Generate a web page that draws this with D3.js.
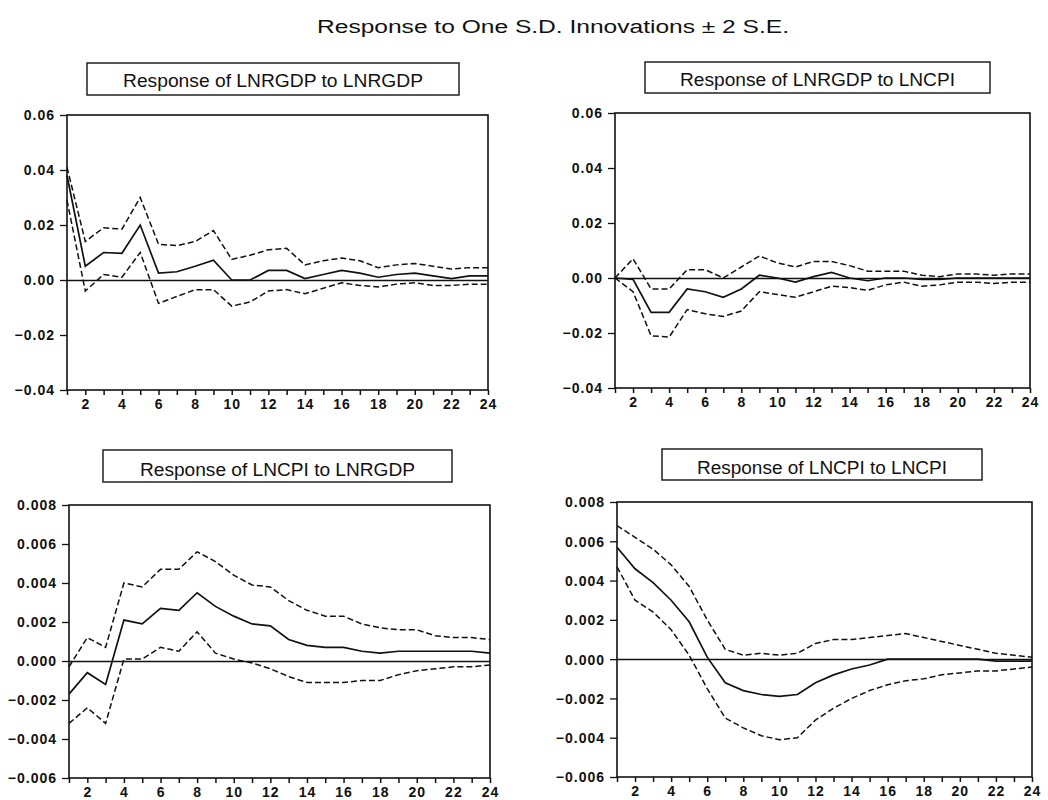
<!DOCTYPE html>
<html lang="en">
<head>
    <meta charset="UTF-8">
    <title>Impulse responses</title>
    <script src="https://cdn.jsdelivr.net/npm/d3@7"></script>
    <style>
        body { margin: 0; background: #fff; }
        text { font-family: "Liberation Sans", Arial, sans-serif; fill: #111; }
        .tick-label { font-size: 14px; font-weight: bold; letter-spacing: 1px; }
    </style>
</head>
<body>
    <svg id="mainsvg" width="1048" height="800"></svg>
    <script>
        // periods on the x axis
        const periods = [1,2,3,4,5,6,7,8,9,10,11,12,13,14,15,16,17,18,19,20,21,22,23,24];
        const mainTitle = "Response to One S.D. Innovations \u00b1 2 S.E.";

        // Response of LNRGDP to LNRGDP
        const gdpGdp = [0.038,0.005,0.010,0.0097,0.020,0.0025,0.003,0.005,0.0072,0.000,0.000,0.0035,0.0035,0.0005,0.002,0.0035,0.0025,0.001,0.002,0.0025,0.0015,0.0005,0.0015,0.0015];
        const gdpGdpUp = [0.041,0.014,0.019,0.0185,0.030,0.013,0.0125,0.014,0.018,0.0075,0.009,0.011,0.0115,0.0055,0.007,0.008,0.007,0.0045,0.0055,0.006,0.005,0.004,0.0045,0.0045];
        const gdpGdpLo = [0.029,-0.004,0.002,0.001,0.010,-0.0085,-0.006,-0.0035,-0.0035,-0.0095,-0.008,-0.004,-0.0035,-0.005,-0.003,-0.001,-0.002,-0.0025,-0.0015,-0.001,-0.002,-0.002,-0.0015,-0.0015];

        // Response of LNRGDP to LNCPI
        const gdpCpi = [0,-0.0005,-0.0125,-0.0125,-0.004,-0.005,-0.007,-0.004,0.001,0.000,-0.0015,0.0005,0.002,0.000,-0.001,0.000,0.000,-0.0005,-0.0005,0,0,0,0,0];
        const gdpCpiUp = [0,0.007,-0.004,-0.004,0.003,0.003,0.000,0.004,0.008,0.0055,0.004,0.006,0.006,0.0045,0.0025,0.0025,0.0025,0.001,0.0005,0.0015,0.0015,0.001,0.0015,0.0015];
        const gdpCpiLo = [0,-0.005,-0.021,-0.0215,-0.0115,-0.013,-0.014,-0.012,-0.005,-0.006,-0.007,-0.005,-0.003,-0.0035,-0.0045,-0.0025,-0.0015,-0.003,-0.0025,-0.0015,-0.0015,-0.002,-0.0015,-0.0015];

        // Response of LNCPI to LNRGDP
        const cpiGdp = [-0.0017,-0.0006,-0.0012,0.0021,0.0019,0.0027,0.0026,0.0035,0.0028,0.0023,0.0019,0.0018,0.0011,0.0008,0.0007,0.0007,0.0005,0.0004,0.0005,0.0005,0.0005,0.0005,0.0005,0.0004];
        const cpiGdpUp = [-0.0003,0.0012,0.0007,0.0040,0.0038,0.0047,0.0047,0.0056,0.0051,0.0044,0.0039,0.0038,0.0031,0.0026,0.0023,0.0023,0.0019,0.0017,0.0016,0.0016,0.0013,0.0012,0.0012,0.0011];
        const cpiGdpLo = [-0.0032,-0.0024,-0.0032,0.0001,0.0001,0.0007,0.0005,0.0015,0.0004,0.0001,-0.0001,-0.0004,-0.0008,-0.0011,-0.0011,-0.0011,-0.0010,-0.0010,-0.0007,-0.0005,-0.0004,-0.0003,-0.0003,-0.0002];

        // Response of LNCPI to LNCPI
        const cpiCpi = [0.0057,0.0046,0.0039,0.0030,0.0019,0.0001,-0.0012,-0.0016,-0.0018,-0.0019,-0.0018,-0.0012,-0.0008,-0.0005,-0.0003,0,0,0,0,0,0,-0.0001,-0.0001,-0.0001];
        const cpiCpiUp = [0.0068,0.0062,0.0056,0.0048,0.0037,0.0020,0.0005,0.0002,0.0003,0.0002,0.0003,0.0008,0.0010,0.0010,0.0011,0.0012,0.0013,0.0011,0.0009,0.0007,0.0005,0.0003,0.0002,0.0001];
        const cpiCpiLo = [0.0047,0.0030,0.0024,0.0015,0.0002,-0.0015,-0.0030,-0.0035,-0.0039,-0.0041,-0.0040,-0.0031,-0.0025,-0.0020,-0.0016,-0.0013,-0.0011,-0.0010,-0.0008,-0.0007,-0.0006,-0.0006,-0.0005,-0.0004];

        const gdpTicks = [-0.04,-0.02,0.00,0.02,0.04,0.06];
        const cpiTicks = [-0.006,-0.004,-0.002,0.000,0.002,0.004,0.006,0.008];
        const xLabels = [2,4,6,8,10,12,14,16,18,20,22,24];

        const panels = [
            {title: "Response of LNRGDP to LNRGDP", mid: gdpGdp, up: gdpGdpUp, lo: gdpGdpLo, ticks: gdpTicks, fmt: ".2f"},
            {title: "Response of LNRGDP to LNCPI", mid: gdpCpi, up: gdpCpiUp, lo: gdpCpiLo, ticks: gdpTicks, fmt: ".2f"},
            {title: "Response of LNCPI to LNRGDP", mid: cpiGdp, up: cpiGdpUp, lo: cpiGdpLo, ticks: cpiTicks, fmt: ".3f"},
            {title: "Response of LNCPI to LNCPI", mid: cpiCpi, up: cpiCpiUp, lo: cpiCpiLo, ticks: cpiTicks, fmt: ".3f"}
        ];

        // where each panel sits on the page
        const layout = [
            {l: 67, r: 488, t: 115, b: 390, box: [87, 63, 459, 95], tw: 300, ty: 87},
            {l: 615, r: 1030, t: 113, b: 388, box: [645, 62, 990, 93], tw: 275, ty: 86},
            {l: 69, r: 490, t: 505, b: 778, box: [103, 450, 452, 482], tw: 275, ty: 476},
            {l: 617, r: 1032, t: 502, b: 777, box: [662, 449, 982, 480], tw: 250, ty: 474}
        ];

        const svg = d3.select("#mainsvg");

        svg.append("text")
            .attr("x", 553).attr("y", 33)
            .attr("text-anchor", "middle")
            .attr("font-size", "18px")
            .attr("textLength", 472)
            .attr("lengthAdjust", "spacingAndGlyphs")
            .text(mainTitle);

        panels.forEach((p, i) => {
            const L = layout[i];
            const g = svg.append("g");

            const x = d3.scaleLinear().domain([1, 24]).range([L.l, L.r]);
            const y = d3.scaleLinear().domain(d3.extent(p.ticks)).range([L.b, L.t]);

            // title box
            g.append("rect")
                .attr("x", L.box[0]).attr("y", L.box[1])
                .attr("width", L.box[2] - L.box[0]).attr("height", L.box[3] - L.box[1])
                .attr("fill", "none").attr("stroke", "#222").attr("stroke-width", 1.5);
            g.append("text")
                .attr("x", (L.box[0] + L.box[2]) / 2).attr("y", L.ty)
                .attr("text-anchor", "middle")
                .attr("font-size", "18px")
                .attr("textLength", L.tw)
                .attr("lengthAdjust", "spacingAndGlyphs")
                .text(p.title);

            // y axis
            const yAxis = g.append("g")
                .attr("transform", `translate(${L.l},0)`)
                .call(d3.axisLeft(y).tickValues(p.ticks).tickFormat(d3.format(p.fmt)).tickSize(7).tickPadding(5));
            yAxis.select(".domain").remove();
            yAxis.selectAll("line").attr("stroke", "#111").attr("stroke-width", 1.3);
            yAxis.selectAll("text").attr("class", "tick-label").attr("dy", "0.35em");

            // x axis: a tick on every period, labels on even ones
            const xAxis = g.append("g")
                .attr("transform", `translate(0,${L.b})`)
                .call(d3.axisBottom(x).tickValues(periods)
                    .tickFormat(d => xLabels.includes(d) ? d : "")
                    .tickSize(5).tickPadding(4));
            xAxis.select(".domain").remove();
            xAxis.selectAll("line").attr("stroke", "#111").attr("stroke-width", 1.5);
            xAxis.selectAll("text").attr("class", "tick-label").attr("dy", "0.68em");

            // zero line
            g.append("line")
                .attr("x1", L.l).attr("x2", L.r)
                .attr("y1", Math.round(y(0)) + 0.5).attr("y2", Math.round(y(0)) + 0.5)
                .attr("stroke", "#111").attr("stroke-width", 1.5);

            const line = d3.line()
                .x((d, k) => x(periods[k]))
                .y(d => y(d));

            [p.up, p.lo].forEach(s => {
                g.append("path")
                    .attr("d", line(s))
                    .attr("fill", "none")
                    .attr("stroke", "#111")
                    .attr("stroke-width", 1.5)
                    .attr("stroke-dasharray", "6,3");
            });
            g.append("path")
                .attr("d", line(p.mid))
                .attr("fill", "none")
                .attr("stroke", "#111")
                .attr("stroke-width", 1.7);

            // frame
            g.append("rect")
                .attr("x", L.l).attr("y", L.t)
                .attr("width", L.r - L.l).attr("height", L.b - L.t)
                .attr("fill", "none").attr("stroke", "#111").attr("stroke-width", 1.6);
        });
    </script>
</body>
</html>
